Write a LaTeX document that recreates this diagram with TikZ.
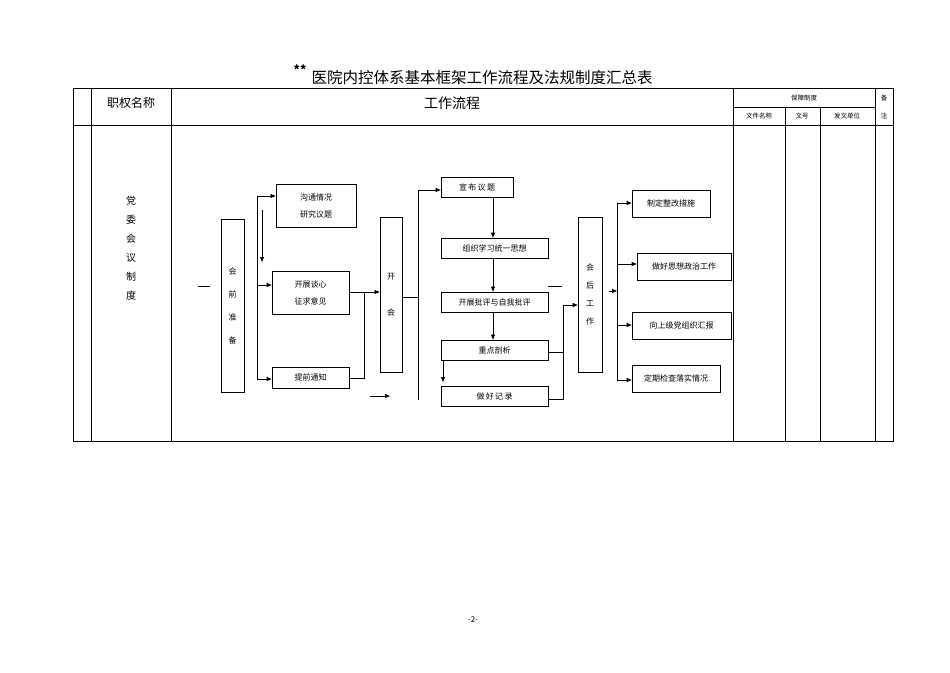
\documentclass[tikz,border=0pt]{standalone}
\usepackage{fontspec}
\setmainfont{Noto Sans CJK SC}
\usetikzlibrary{arrows.meta}
\begin{document}
\begin{tikzpicture}[x=1pt,y=-1pt,
  bx/.style={draw,line width=0.7pt,inner sep=0pt,font=\fontsize{8}{10}\selectfont},
  ln/.style={line width=0.7pt},
  ar/.style={line width=0.7pt,-{Triangle[length=5pt,width=4pt]}},
  vt/.style={font=\fontsize{8}{23}\selectfont,align=center}]
\useasboundingbox (0,0) rectangle (950,672);
% title
\node (title) at (482,78) {\fontsize{15.5}{16}\selectfont 医院内控体系基本框架工作流程及法规制度汇总表};
\node (stars) at (300,70) {\fontsize{12}{12}\selectfont\bfseries **};
\node (foot) at (473,620) {\fontsize{8}{8}\selectfont -2-};
% table
\draw[line width=0.6pt] (73,88) rectangle (893,441);
\draw[line width=0.6pt] (73,125)--(893,125);
\foreach \x in {91,171,733,875} \draw[line width=0.6pt] (\x,88)--(\x,441);
\draw[line width=0.6pt] (733,107)--(875,107);
\foreach \x in {785,820} \draw[line width=0.6pt] (\x,107)--(\x,441);
\node (h1) at (131,103) {\fontsize{12}{12}\selectfont 职权名称};
\node (h2) at (452,103) {\fontsize{14}{14}\selectfont 工作流程};
\node (h3) at (804,98) {\fontsize{6.5}{7}\selectfont 保障制度};
\node (h4) at (759,116) {\fontsize{6.5}{7}\selectfont 文件名称};
\node (h5) at (802,116) {\fontsize{6.5}{7}\selectfont 文号};
\node (h6) at (847,116) {\fontsize{6.5}{7}\selectfont 发文单位};
\node[align=center,font=\fontsize{6.5}{18}\selectfont] (h7) at (884,107) {备\\注};
\node[align=center,font=\fontsize{10}{19}\selectfont] (left) at (131,248) {党\\委\\会\\议\\制\\度};
% boxes
\node[bx,minimum width=23,minimum height=173,vt] (pre) at (232.5,305.5) {会\\前\\准\\备};
\node[bx,minimum width=80,minimum height=43,align=center,font=\fontsize{8}{17}\selectfont] (gt) at (316,205.5) {沟通情况\\研究议题};
\node[bx,minimum width=77,minimum height=43,align=center,font=\fontsize{8}{17}\selectfont] (tx) at (310.5,292.5) {开展谈心\\征求意见};
\node[bx,minimum width=77,minimum height=21] (tq) at (310.5,377.5) {提前通知};
\node[bx,minimum width=22,minimum height=155,align=center,font=\fontsize{8}{36}\selectfont] (kh) at (391,294.5) {开\\会};
\node[bx,minimum width=72,minimum height=20] (xb) at (477,187) {宣\,布\,议\,题};
\node[bx,minimum width=107,minimum height=20] (zz) at (494.5,248) {组织学习统一思想};
\node[bx,minimum width=107,minimum height=20] (pp) at (494.5,302) {开展批评与自我批评};
\node[bx,minimum width=107,minimum height=20] (zd) at (494.5,350) {重点剖析};
\node[bx,minimum width=107,minimum height=20] (jl) at (494.5,396) {做\,好\,记\,录};
\node[bx,minimum width=24,minimum height=155,vt,font=\fontsize{8}{18}\selectfont] (hh) at (590,294.5) {会\\后\\工\\作};
\node[bx,minimum width=78,minimum height=27] (r1) at (671,203.5) {制定整改措施};
\node[bx,minimum width=94,minimum height=27] (r2) at (684,266.5) {做好思想政治工作};
\node[bx,minimum width=99,minimum height=27] (r3) at (681.5,325.5) {向上级党组织汇报};
\node[bx,minimum width=88,minimum height=27] (r4) at (676,378.5) {定期检查落实情况};
% connectors
\coordinate (d1a) at (198,286); \coordinate (d1b) at (210,286);
\draw[ln] (d1a)--(d1b);
\coordinate (v1t) at (257,196); \coordinate (v1b) at (257,379);
\draw[ln] (v1t)--(v1b);
\draw[ar] (v1t)--(gt.west|-v1t);
\draw[ar] (257,285)--(tx.west|-0,285);
\draw[ar] (v1b)--(tq.west|-v1b);
\draw[ar] (262,210)--(262,262);
\draw[ln] (tx.east|-0,292)--(364,292)--(364,378)--(tq.east|-0,378);
\draw[ar] (364,292)--(kh.west|-0,292);
\draw[ln] (kh.east|-0,297)--(418,297);
\draw[ln] (418,190)--(418,400);
\draw[ar] (418,190)--(xb.west|-0,190);
\draw[ar] (370,396)--(390,396);
\draw[ar] (493,197)--(zz.north-|493,0);
\draw[ar] (493,258)--(pp.north-|493,0);
\draw[ar] (493,312)--(zd.north-|493,0);
\draw[ar] (443,360)--(443,382);
\draw[ln] (zd.east|-0,352)--(563,352);
\draw[ln] (jl.east|-0,399)--(563,399)--(563,305);
\draw[ar] (563,305)--(hh.west|-0,305);
\draw[ln] (548,286)--(562,286);
\draw[ln] (617,203)--(617,380);
\draw[ar] (617,203)--(r1.west|-0,203);
\draw[ar] (617,264)--(r2.west|-0,264);
\draw[ar] (617,325)--(r3.west|-0,325);
\draw[ar] (617,380)--(r4.west|-0,380);
\draw[ar] (609,291)--(617,291);
\end{tikzpicture}
\end{document}
